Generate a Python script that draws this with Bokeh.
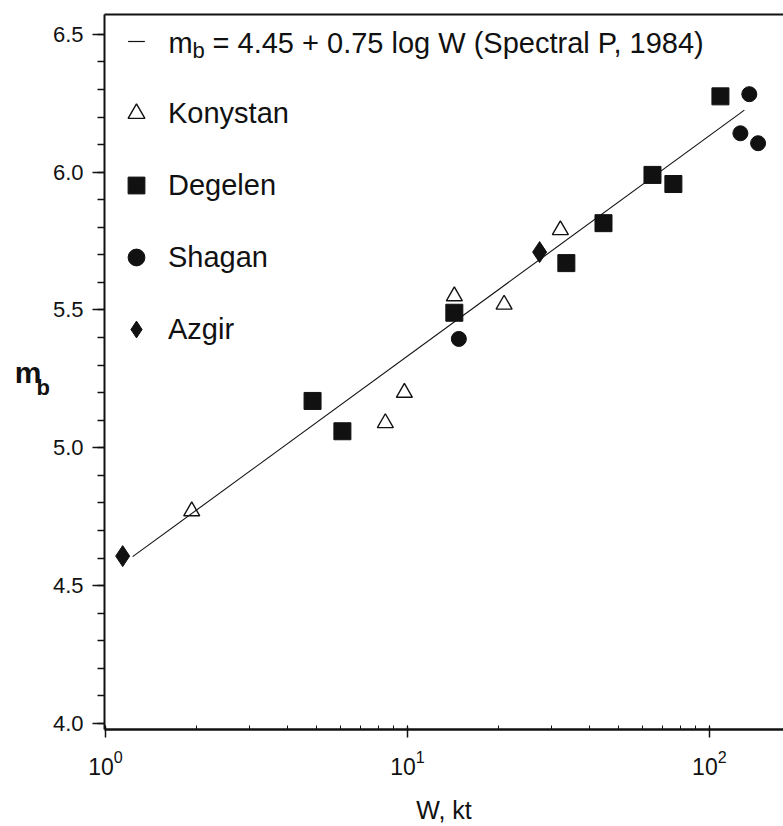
from bokeh.plotting import figure
from bokeh.models import (Range1d, LogTicker, FixedTicker, LinearAxis, Legend,
                          LegendItem, Label, SingleIntervalTicker, NumeralTickFormatter)
from bokeh.embed import file_html
from bokeh.resources import INLINE

# ---- data ----
kony_w = [1.93, 8.45, 9.77, 14.3, 20.9, 32.1]
kony_mb = [4.77, 5.09, 5.20, 5.55, 5.52, 5.79]
deg_w = [4.85, 6.09, 14.3, 33.6, 44.6, 64.8, 76.0, 108.8]
deg_mb = [5.17, 5.06, 5.49, 5.67, 5.815, 5.99, 5.957, 6.275]
sha_w = [14.8, 126.7, 135.6, 145.0]
sha_mb = [5.395, 6.141, 6.283, 6.105]
azg_w = [1.14, 27.4]
azg_mb = [4.607, 5.71]
fit_w = [1.23, 130.6]
fit_mb = [4.605, 6.225]

series_names = ["Konystan", "Degelen", "Shagan", "Azgir"]
eq_text = "= 4.45 + 0.75 log W (Spectral P, 1984)"

FONT = "Liberation Sans"
INK = "#111111"

p = figure(width=783, height=826, x_axis_type="log",
           x_range=Range1d(0.9924, 176), y_range=Range1d(3.978, 6.572),
           output_backend="svg", toolbar_location=None,
           min_border_left=104, min_border_right=0, min_border_top=14,
           min_border_bottom=97, background_fill_color="white",
           border_fill_color="white", outline_line_color=None)
p.xgrid.grid_line_color = None
p.ygrid.grid_line_color = None

# y axis (its own label is the subscript "b")
ya = p.yaxis[0]
ya.ticker = SingleIntervalTicker(interval=0.5, num_minor_ticks=5)
ya.formatter = NumeralTickFormatter(format="0.0")
ya.axis_line_width = 2
ya.axis_line_color = INK
ya.major_tick_out = 12
ya.major_tick_in = 0
ya.minor_tick_out = 7
ya.minor_tick_in = 0
ya.major_tick_line_width = 1.5
ya.minor_tick_line_width = 1.5
ya.major_tick_line_color = INK
ya.minor_tick_line_color = INK
ya.major_label_text_font = FONT
ya.major_label_text_font_size = "22px"
ya.major_label_text_color = INK
ya.major_label_standoff = 9
ya.axis_label = "\nb"
ya.axis_label_orientation = "horizontal"
ya.axis_label_standoff = 0
ya.axis_label_text_font = FONT
ya.axis_label_text_font_size = "22px"
ya.axis_label_text_font_style = "bold"
ya.axis_label_text_color = INK

# outer left axis carrying the "m" of the y title
ym = LinearAxis(ticker=FixedTicker(ticks=[]), axis_line_color=None,
                major_tick_line_color=None, minor_tick_line_color=None,
                axis_label="m", axis_label_orientation="horizontal",
                axis_label_standoff=-8, axis_label_text_font=FONT,
                axis_label_text_font_size="30px", axis_label_text_font_style="bold",
                axis_label_text_color=INK)
p.add_layout(ym, "left")

# x axis
xa = p.xaxis[0]
xa.ticker = LogTicker(num_minor_ticks=10, desired_num_ticks=3)
xa.axis_line_width = 2.5
xa.axis_line_color = INK
xa.major_tick_out = 8
xa.major_tick_in = 3
xa.minor_tick_out = 0
xa.minor_tick_in = 4
xa.major_tick_line_color = INK
xa.minor_tick_line_color = INK
xa.major_tick_line_width = 1.5
xa.major_label_text_font = FONT
xa.major_label_text_font_size = "23px"
xa.major_label_text_color = INK
xa.major_label_standoff = 12
xa.axis_label = "W, kt"
xa.axis_label_standoff = 18
xa.axis_label_text_font = FONT
xa.axis_label_text_font_size = "25px"
xa.axis_label_text_font_style = "normal"
xa.axis_label_text_color = INK

# top frame line
top = LinearAxis(ticker=FixedTicker(ticks=[]), axis_line_width=2, axis_line_color=INK,
                 major_tick_line_color=None, minor_tick_line_color=None)
p.add_layout(top, "above")

# marks
r_fit = p.line(fit_w, fit_mb, line_color=INK, line_width=1.1)
r_fit_key = p.scatter(fit_w[:1], fit_mb[:1], marker="dash", size=0,
                      line_color=INK, line_width=1.2)
r_k = p.scatter(kony_w, kony_mb, marker="triangle", size=16, fill_color=None,
                line_color=INK, line_width=1.4)
r_d = p.scatter(deg_w, deg_mb, marker="square", size=17, fill_color=INK, line_color=INK)
r_s = p.scatter(sha_w, sha_mb, marker="circle", size=15, fill_color=INK, line_color=INK)
r_a = p.scatter(azg_w, azg_mb, marker="diamond", size=21, fill_color=INK, line_color=INK)

legend = Legend(items=[LegendItem(label=" ", renderers=[r_fit_key]),
                       LegendItem(label=series_names[0], renderers=[r_k]),
                       LegendItem(label=series_names[1], renderers=[r_d]),
                       LegendItem(label=series_names[2], renderers=[r_s]),
                       LegendItem(label=series_names[3], renderers=[r_a])],
                location=(11, 379), margin=0, padding=0, spacing=30,
                glyph_width=42, glyph_height=42, label_height=42,
                label_standoff=11, label_text_font=FONT,
                label_text_font_size="29px", label_text_color=INK,
                border_line_color=None, background_fill_alpha=0)
p.add_layout(legend)

# equation text of the first legend row
p.add_layout(Label(x=1.617, y=6.468, text="m", text_font=FONT, text_font_size="29px",
                   text_color=INK, text_baseline="alphabetic"))
p.add_layout(Label(x=1.942, y=6.443, text="b", text_font=FONT, text_font_size="22px",
                   text_color=INK, text_baseline="alphabetic"))
p.add_layout(Label(x=2.262, y=6.468, text=eq_text, text_font=FONT, text_font_size="29px",
                   text_color=INK, text_baseline="alphabetic"))

open("out.html", "w").write(file_html(p, INLINE))
